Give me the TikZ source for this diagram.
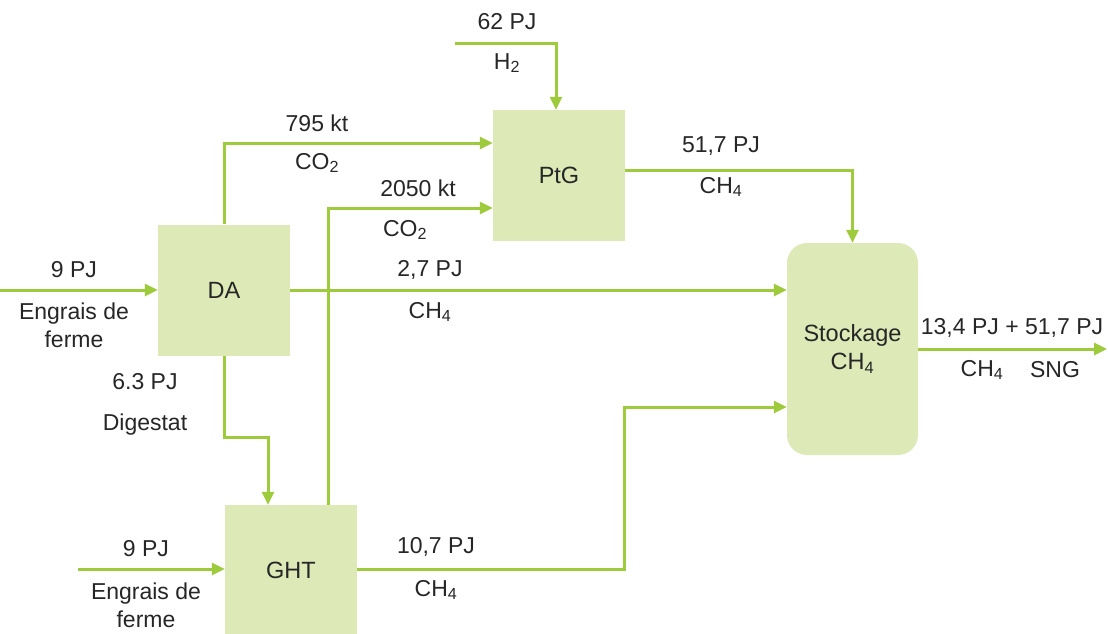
\documentclass[tikz,border=0pt]{standalone}
\usepackage{fontspec}
\setmainfont{Liberation Sans}
\usetikzlibrary{arrows.meta}
\definecolor{lg}{HTML}{9DCB3B}
\definecolor{bx}{HTML}{DDE9B7}
\begin{document}
\begin{tikzpicture}[x=1pt,y=-1pt,
 flow/.style={draw=lg,line width=3pt,-{Triangle[length=13pt,width=12pt]}},
 box/.style={fill=bx,minimum width=132pt,minimum height=131pt,inner sep=0pt,font=\fontsize{23.5}{28}\selectfont,text=black!85},
 lbl/.style={font=\fontsize{23}{28}\selectfont,inner sep=0pt,align=center,text=black!85}]
\useasboundingbox (0,0) rectangle (1108,633);
% boxes
\node[box] (DA) at (224,290) {DA};
\node[box,minimum height=130pt] (GHT) at (291,570) {GHT};
\node[box] (PtG) at (559,175.5) {PtG};
\node[box,rounded corners=20pt,minimum height=212pt,minimum width=131pt,align=center] (ST) at (852.5,349) {Stockage\\CH\textsubscript{4}};
% free ends
\coordinate (h2) at (455,43);
\coordinate (in1) at (0,290);
\coordinate (in2) at (78,569);
\coordinate (out) at (1107,349);
\coordinate (g1) at (624,407);
% connectors
\draw[flow] (h2) -| ([xshift=-3pt]PtG.north);
\draw[flow] (DA.north) |- ([yshift=32.5pt]PtG.west);
\draw[flow] ([xshift=37pt]GHT.north) |- ([yshift=-32.5pt]PtG.west);
\draw[flow] ([yshift=5.5pt]PtG.east) -| (ST.north);
\draw[flow] (DA.east) -- (DA.east -| ST.west);
\draw[flow] (DA.south) -- ++(0,82) -| ([xshift=-23pt]GHT.north);
\draw[flow] ([yshift=1pt]GHT.east) -| (g1) -- (g1 -| ST.west);
\draw[flow] (ST.east) -- (out);
\draw[flow] (in1) -- (DA.west);
\draw[flow] (in2) -- ([yshift=1pt]GHT.west);
% labels
\node[lbl] (l1) at (507,22) {62 PJ};
\node[lbl] (l2) at (507,63) {H\textsubscript{2}};
\node[lbl] (l3) at (317,123) {795 kt};
\node[lbl] (l4) at (317,163) {CO\textsubscript{2}};
\node[lbl] (l5) at (418,188) {2050 kt};
\node[lbl] (l6) at (405,230) {CO\textsubscript{2}};
\node[lbl] (l7) at (721,146) {51,7 PJ};
\node[lbl] (l8) at (721,187) {CH\textsubscript{4}};
\node[lbl] (l9) at (430,270) {2,7 PJ};
\node[lbl] (l10) at (430,312) {CH\textsubscript{4}};
\node[lbl] (l11) at (74,270) {9 PJ};
\node[lbl] (l12) at (74,325) {Engrais de\\ferme};
\node[lbl] (l13) at (145,382) {6.3 PJ};
\node[lbl] (l14) at (145,425) {Digestat};
\node[lbl] (l15) at (146,549) {9 PJ};
\node[lbl] (l16) at (146,605) {Engrais de\\ferme};
\node[lbl] (l17) at (436,547) {10,7 PJ};
\node[lbl] (l18) at (436,590) {CH\textsubscript{4}};
\node[lbl] (l19) at (1012,328) {13,4 PJ + 51,7 PJ};
\node[lbl] (l20) at (982,370) {CH\textsubscript{4}};
\node[lbl] (l21) at (1055,370) {SNG};
\end{tikzpicture}
\end{document}
